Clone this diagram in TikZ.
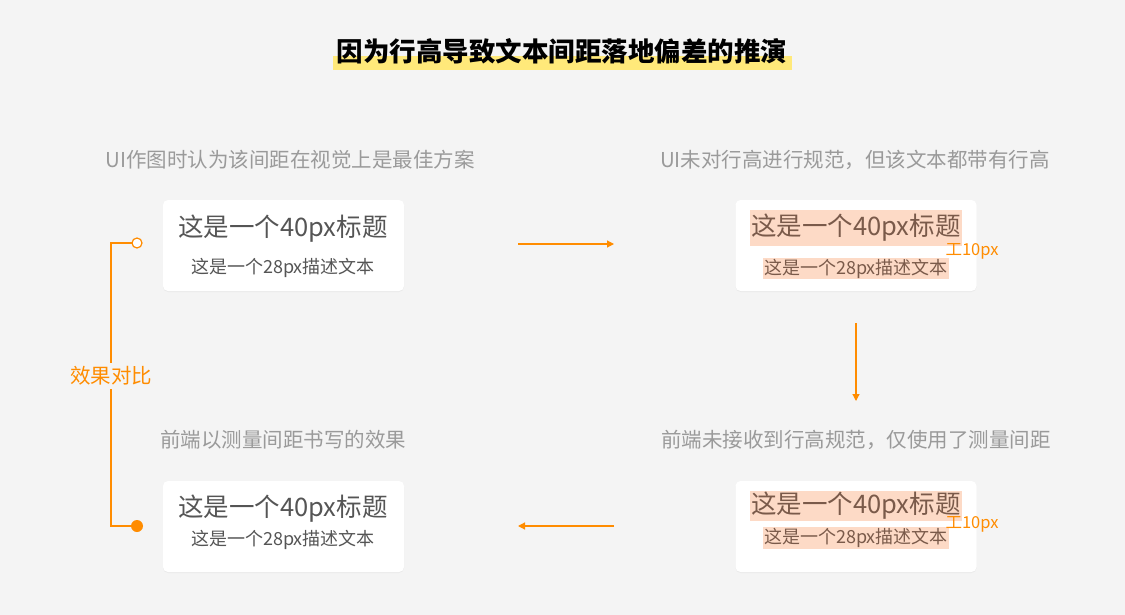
\documentclass[tikz,border=0pt]{standalone}
\usepackage{fontspec}
\setmainfont{Noto Sans CJK SC}
\usepackage{xcolor}
\usetikzlibrary{positioning,arrows.meta,shadows}
\definecolor{bg}{HTML}{F4F4F4}
\definecolor{accent}{HTML}{FF8C00}
\definecolor{hilite}{HTML}{FDDAC6}
\definecolor{cardtext}{HTML}{555555}
\definecolor{captext}{HTML}{9A9A9A}
\definecolor{marktext}{HTML}{7A5A4A}
\definecolor{titlebar}{HTML}{FFE97A}
\tikzset{
  card/.style={draw=none,fill=white,rounded corners=5pt,minimum width=241pt,minimum height=91pt,
    drop shadow={shadow xshift=0pt,shadow yshift=-1pt,opacity=0.08}},
  caption/.style={text=captext,font=\fontsize{20.5}{22}\selectfont},
  headtext/.style={text=cardtext,font=\fontsize{25.5}{27}\selectfont,inner sep=1pt},
  subtext/.style={text=cardtext,font=\fontsize{18}{20}\selectfont,inner sep=1pt},
  markbox/.style={fill=hilite,text=marktext},
  flow/.style={draw=accent,line width=1.2pt,-{Triangle[length=7pt,width=7pt]}},
  gap/.style={text=accent,font=\fontsize{16.5}{18}\selectfont,inner sep=0pt}
}
\begin{document}
\begin{tikzpicture}[x=1pt,y=-1pt]
\fill[bg] (0,0) rectangle (1125,615);
\useasboundingbox (0,0) rectangle (1125,615);
% title
\fill[titlebar] (333,56) rectangle (792,70);
\node[font=\bfseries\fontsize{26.5}{28}\selectfont,text=black] (title) at (562,51) {因为行高导致文本间距落地偏差的推演};
% captions
\node[caption] (capA) at (290,160) {UI作图时认为该间距在视觉上是最佳方案};
\node[caption] (capB) at (855,160) {UI未对行高进行规范，但该文本都带有行高};
\node[caption] (capC) at (283,440) {前端以测量间距书写的效果};
\node[caption] (capD) at (856,440) {前端未接收到行高规范，仅使用了测量间距};
% cards
\node[card] (cardA) at (283.5,245.5) {};
\node[card] (cardB) at (856,245.5) {};
\node[card] (cardC) at (283.5,526.5) {};
\node[card] (cardD) at (856,526.5) {};
% card A
\node[headtext] (headA) at (283,229) {这是一个40px标题};
\node[subtext] (subA) at (283,268) {这是一个28px描述文本};
% card B
\node[headtext,markbox,minimum width=210pt,minimum height=36pt] (headB) at (856,228) {这是一个40px标题};
\node[subtext,markbox,minimum width=186pt,minimum height=21pt] (subB) at (856,268.5) {这是一个28px描述文本};
\node[gap] (gapB) at (972,251) {工10px};
% card C
\node[headtext] (headC) at (283,509) {这是一个40px标题};
\node[subtext] (subC) at (283,540) {这是一个28px描述文本};
% card D
\node[headtext,markbox,minimum width=210pt,minimum height=28pt] (headD) at (856,506) {这是一个40px标题};
\node[subtext,markbox,minimum width=186pt,minimum height=22pt] (subD) at (856,538) {这是一个28px描述文本};
\node[gap] (gapD) at (972,524) {工10px};
% flow arrows
\coordinate (a1) at (518,244); \coordinate (a2) at (614,244);
\coordinate (b1) at (856,323); \coordinate (b2) at (856,401);
\coordinate (c1) at (614,526); \coordinate (c2) at (518,526);
\draw[flow] (a1) -- (a2);
\draw[flow] (b1) -- (b2);
\draw[flow] (c1) -- (c2);
% comparison bracket
\node[text=accent,font=\fontsize{20.5}{22}\selectfont] (cmp) at (111,376) {效果对比};
\coordinate (topdot) at (137,243);
\coordinate (botdot) at (137,526);
\draw[accent,line width=1.2pt] (cmp.north) -- (111,243) -- (132,243);
\draw[accent,line width=1.2pt] (cmp.south) -- (111,526) -- (botdot);
\draw[accent,line width=1.2pt,fill=white] (topdot) circle (5);
\fill[accent] (botdot) circle (6);
\end{tikzpicture}
\end{document}
